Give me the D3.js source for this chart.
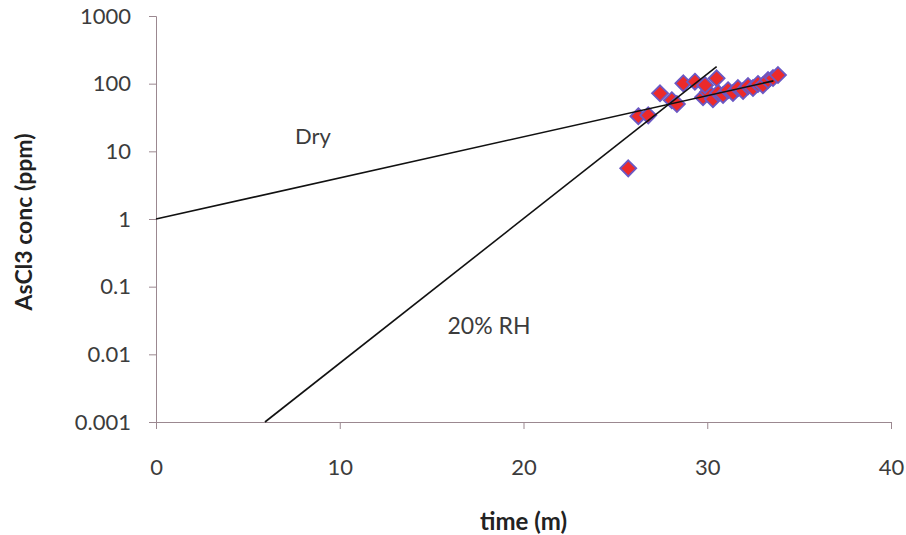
<!DOCTYPE html>
<html>
<head>
<meta charset="utf-8">
<script src="https://cdn.jsdelivr.net/npm/d3@7"></script>
<style>
  html, body { margin: 0; padding: 0; background: #fff; }
  svg { display: block; }
</style>
</head>
<body>
<svg id="chart" width="906" height="535"></svg>
<script>
// AsCl3 concentration measurements (time in minutes, conc in ppm)
const rhTime = [25.70, 26.25, 26.79, 27.43, 28.07, 28.35, 28.70, 29.33, 29.88, 30.51];
const rhConc = [5.6, 33, 34, 72, 57, 50, 101, 107, 95, 120];

const dryTime = [29.77, 30.04, 30.31, 30.59, 30.86, 31.13, 31.40, 31.67, 31.95, 32.22, 32.49, 32.76, 33.03, 33.31, 33.58, 33.85];
const dryConc = [63, 75, 59, 73, 68, 80, 73, 86, 78, 92, 86, 99, 95, 113, 121, 134];

// Exponential fit lines (end points)
const dryFitTime = [0, 33.6];
const dryFitConc = [1, 110];
const rhFitTime = [5.93, 30.51];
const rhFitConc = [0.001, 178];

// Axis ticks
const xTicks = [0, 10, 20, 30, 40];
const yTicks = [0.001, 0.01, 0.1, 1, 10, 100, 1000];
const yTickLabels = ["0.001", "0.01", "0.1", "1", "10", "100", "1000"];

const svg = d3.select("#chart");
const plotLeft = 156, plotRight = 891, plotTop = 16, plotBottom = 422;

const x = d3.scaleLinear().domain([0, 40]).range([plotLeft, plotRight]);
const y = d3.scaleLog().domain([0.001, 1000]).range([plotBottom, plotTop]);

const axisColor = "#9b8890";
const textColor = "#3c3c3c";
const font = "Lato, 'Open Sans', sans-serif";

// Y axis
const yAxis = svg.append("g")
  .attr("transform", `translate(${plotLeft},0)`)
  .call(d3.axisLeft(y).tickValues(yTicks).tickSize(7).tickPadding(18)
    .tickFormat((d, i) => yTickLabels[i]));
yAxis.select(".domain").attr("stroke", axisColor);
yAxis.selectAll(".tick line").attr("stroke", axisColor);
yAxis.selectAll(".tick text")
  .attr("fill", textColor).style("font-family", font).style("font-size", "22px");

// X axis
const xAxis = svg.append("g")
  .attr("transform", `translate(0,${plotBottom})`)
  .call(d3.axisBottom(x).tickValues(xTicks).tickSize(7).tickSizeOuter(7).tickPadding(30)
    .tickFormat(d3.format("d")));
xAxis.select(".domain").attr("stroke", axisColor);
xAxis.selectAll(".tick line").attr("stroke", axisColor);
xAxis.selectAll(".tick text")
  .attr("fill", textColor).style("font-family", font).style("font-size", "22px");

// Axis titles
svg.append("text")
  .attr("x", (plotLeft + plotRight) / 2).attr("y", 530)
  .attr("text-anchor", "middle")
  .attr("fill", "#222").style("font-family", font).style("font-weight", "bold").style("font-size", "24px")
  .text("time (m)");

svg.append("text")
  .attr("transform", `translate(32,${(plotTop + plotBottom) / 2 + 3}) rotate(-90)`)
  .attr("text-anchor", "middle")
  .attr("fill", "#222").style("font-family", font).style("font-weight", "bold").style("font-size", "23px")
  .text("AsCl3 conc (ppm)");

// Markers: red diamonds with purple outline
const diamond = "M0,-8L8,0L0,8L-8,0Z";
const plotPoints = (ts, cs) => {
  svg.append("g").selectAll("path")
    .data(ts.map((t, i) => [t, cs[i]]))
    .join("path")
    .attr("d", diamond)
    .attr("transform", d => `translate(${x(d[0])},${y(d[1])})`)
    .attr("fill", "#ec2a2a")
    .attr("stroke", "#6a58c4")
    .attr("stroke-width", 1.8);
};
plotPoints(dryTime, dryConc);
plotPoints(rhTime, rhConc);

// Fit lines
const line = d3.line().x(d => x(d[0])).y(d => y(d[1]));
[[dryFitTime, dryFitConc], [rhFitTime, rhFitConc]].forEach(([ts, cs]) => {
  svg.append("path")
    .datum(ts.map((t, i) => [t, cs[i]]))
    .attr("d", line)
    .attr("fill", "none")
    .attr("stroke", "#111")
    .attr("stroke-width", 1.6);
});

// Series labels
svg.append("text")
  .attr("x", 313).attr("y", 144).attr("text-anchor", "middle")
  .attr("fill", textColor).style("font-family", font).style("font-size", "22px")
  .text("Dry");
svg.append("text")
  .attr("x", 489).attr("y", 334).attr("text-anchor", "middle")
  .attr("fill", textColor).style("font-family", font).style("font-size", "23px")
  .text("20% RH");
</script>
</body>
</html>
